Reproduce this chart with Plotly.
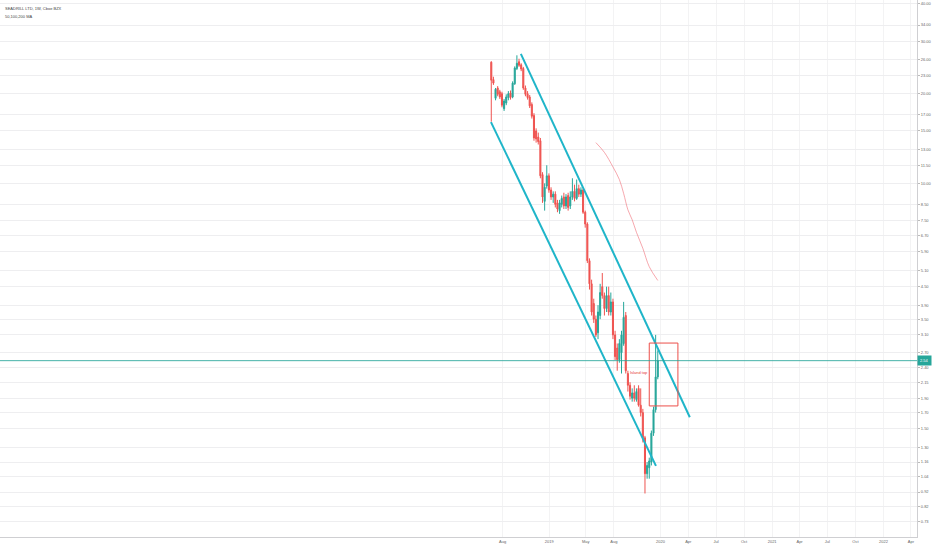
import math
import pandas as pd
import plotly.graph_objects as go

# ---------------- data (weekly candles) ----------------
start_week = "2018-06-25"
opens = [25.5, 22.3, 19.3, 20.9, 20.3, 20.0, 17.8, 18.6, 19.4, 20.1,
         19.5, 21.6, 24.3, 25.6, 25.0, 24.3, 20.9, 20.0, 19.5, 18.4,
         16.9, 15.0, 14.3, 13.9, 10.7, 8.7, 9.8, 10.6, 9.5, 9.0,
         9.2, 8.6, 8.1, 8.5, 9.0, 8.4, 9.1, 8.4, 9.0, 9.4,
         8.9, 9.6, 9.2, 9.5, 8.0, 7.3, 5.5, 4.6, 3.95, 3.5,
         3.15, 3.6, 4.5, 4.2, 3.8, 4.2, 3.7, 4.0, 3.1, 2.8,
         2.56, 2.7, 2.9, 3.6, 2.3, 2.1, 1.9, 1.98, 1.88, 2.05,
         1.8, 1.7, 1.4, 1.06, 1.11, 1.16, 1.45, 1.74, 2.24]
highs = [25.7, 22.8, 20.9, 21.2, 20.6, 20.3, 19.2, 19.9, 20.4, 20.5,
         22.0, 24.7, 26.9, 26.2, 25.3, 24.6, 21.3, 20.4, 19.8, 18.7,
         17.2, 15.3, 14.8, 14.2, 10.9, 10.0, 11.5, 10.8, 9.7, 9.4,
         9.4, 8.8, 8.8, 9.1, 9.3, 9.2, 9.3, 9.4, 10.4, 9.9,
         10.3, 9.9, 9.7, 9.6, 8.1, 7.4, 5.6, 4.75, 4.1, 3.6,
         3.9, 4.6, 5.0, 4.3, 4.5, 4.5, 4.3, 4.1, 3.2, 2.9,
         3.0, 3.2, 4.0, 3.7, 2.35, 2.15, 2.05, 2.1, 2.05, 2.1,
         2.05, 1.75, 1.42, 1.16, 1.2, 1.48, 1.78, 3.1, 2.75]
lows = [16.1, 21.4, 19.0, 19.6, 19.2, 18.0, 17.5, 18.3, 19.0, 19.1,
        19.3, 21.4, 24.0, 24.6, 23.8, 20.6, 19.6, 19.1, 17.9, 16.5,
        13.9, 13.7, 13.5, 10.4, 8.6, 8.1, 9.6, 9.3, 8.8, 8.6,
        8.3, 8.0, 7.9, 8.3, 8.2, 8.2, 8.1, 8.2, 8.8, 8.7,
        8.8, 9.0, 9.0, 7.9, 7.1, 5.4, 4.4, 3.6, 3.4, 3.05,
        3.0, 3.5, 4.1, 3.6, 3.7, 3.6, 3.6, 3.0, 2.55, 2.35,
        2.5, 2.3, 2.85, 2.3, 2.0, 1.88, 1.85, 1.85, 1.85, 1.78,
        1.65, 1.35, 0.91, 1.02, 1.02, 1.13, 1.42, 1.7, 2.2]
closes = [22.2, 21.7, 20.7, 19.9, 19.5, 18.3, 18.9, 19.5, 20.0, 19.4,
          21.7, 24.4, 25.3, 24.9, 24.2, 20.9, 19.9, 19.4, 18.2, 16.8,
          14.2, 14.1, 13.8, 10.6, 9.0, 9.7, 10.6, 9.5, 9.0, 9.2,
          8.5, 8.2, 8.6, 8.9, 8.4, 9.0, 8.3, 9.0, 9.4, 8.9,
          9.6, 9.2, 9.5, 8.0, 7.3, 5.5, 4.6, 3.7, 3.5, 3.1,
          3.7, 4.3, 4.2, 3.8, 4.2, 3.7, 4.0, 3.1, 2.62, 2.56,
          2.9, 3.1, 3.55, 2.35, 2.1, 1.93, 1.98, 1.9, 2.0, 1.8,
          1.7, 1.4, 1.06, 1.13, 1.17, 1.45, 1.74, 2.24, 2.54]

# 50-week moving average (candle index, value)
ma_index = [49, 53, 57, 60, 62, 64, 66, 68, 71, 74, 78]
ma_value = [13.7, 12.7, 11.35, 10.3, 9.25, 8.15, 7.55, 6.85, 6.05, 5.25, 4.72]

# channel trend lines (drawn by hand on the original chart)
upper_dates = ["2018-09-30", "2020-04-06"]
upper_prices = [27.2, 1.64]
lower_dates = ["2018-06-24", "2019-12-17"]
lower_prices = [16.05, 1.126]

# "Island top" box
box_dates = ["2019-11-25", "2020-02-27"]
box_prices = [1.79, 2.91]
note_text = "Island top"
note_date = "2019-10-24"
note_price = 2.31

last_price = 2.54
title_line1 = "SEADRILL LTD, 1W, Cboe BZX"
title_line2 = "50,100,200 MA"

y_ticks = [40, 34, 30, 26, 23, 20, 17, 15, 13, 11.5, 10, 8.5, 7.5, 6.7, 5.9, 5.1,
           4.5, 3.9, 3.5, 3.1, 2.7, 2.4, 2.15, 1.9, 1.7, 1.5, 1.3, 1.16, 1.04,
           0.92, 0.82, 0.73]
x_tick_dates = ["2018-08-01", "2019-01-01", "2019-05-01", "2019-08-01", "2020-01-01",
                "2020-04-01", "2020-07-01", "2020-10-01", "2021-01-01", "2021-04-01",
                "2021-07-01", "2021-10-01", "2022-01-01", "2022-04-01"]
x_tick_text = ["Aug", "2019", "May", "Aug", "2020", "Apr", "Jul", "Oct", "2021",
               "Apr", "Jul", "Oct", "2022", "Apr"]

x_range = ["2014-01-26", "2022-04-21"]
y_range = [0.650, 41.25]

# ------------------------------------------------------------------------------
dates = pd.date_range(start_week, periods=len(closes), freq="7D")

UP = "#26a69a"
DOWN = "#ef5350"
CYAN = "#1fb5c9"
FONT = "Liberation Sans, Arial, sans-serif"
FS = 4

fig = go.Figure()

fig.add_trace(go.Candlestick(
    x=dates, open=opens, high=highs, low=lows, close=closes,
    increasing=dict(line=dict(color=UP, width=1), fillcolor=UP),
    decreasing=dict(line=dict(color=DOWN, width=1), fillcolor=DOWN),
    whiskerwidth=0, hoverinfo="skip", showlegend=False,
))

fig.add_trace(go.Scatter(
    x=[dates[i] for i in ma_index], y=ma_value, mode="lines",
    line=dict(color="rgba(240,110,120,0.6)", width=1, shape="spline"),
    hoverinfo="skip", showlegend=False,
))

for dx, py in ((upper_dates, upper_prices), (lower_dates, lower_prices)):
    fig.add_trace(go.Scatter(x=dx, y=py, mode="lines",
                             line=dict(color=CYAN, width=2),
                             hoverinfo="skip", showlegend=False))

# box
fig.add_trace(go.Scatter(
    x=[box_dates[0], box_dates[1], box_dates[1], box_dates[0], box_dates[0]],
    y=[box_prices[0], box_prices[0], box_prices[1], box_prices[1], box_prices[0]],
    mode="lines", line=dict(color="#ec4f4a", width=1),
    hoverinfo="skip", showlegend=False))

# last price line
fig.add_trace(go.Scatter(x=x_range, y=[last_price, last_price], mode="lines",
                         line=dict(color="rgba(38,166,154,0.85)", width=1),
                         hoverinfo="skip", showlegend=False))

fig.add_annotation(x=note_date, y=math.log10(note_price), xref="x", yref="y",
                   text=note_text, showarrow=False,
                   font=dict(family=FONT, size=FS, color="#e53935"))

fig.add_annotation(x=1, y=math.log10(last_price), xref="paper", yref="y",
                   xanchor="left", yanchor="middle", text=f"{last_price:.2f}",
                   showarrow=False, bgcolor=UP, borderpad=2,
                   font=dict(family=FONT, size=FS, color="white"))

fig.add_annotation(x=0.003, y=0.985, xref="paper", yref="paper", xanchor="left",
                   yanchor="middle", text=title_line1, showarrow=False,
                   font=dict(family=FONT, size=FS, color="#444"))
fig.add_annotation(x=0.003, y=0.97, xref="paper", yref="paper", xanchor="left",
                   yanchor="middle", text=title_line2, showarrow=False,
                   font=dict(family=FONT, size=FS, color="#444"))

fig.update_layout(
    template="none",
    width=932, height=550,
    margin=dict(l=0, r=15, t=0, b=13),
    paper_bgcolor="white", plot_bgcolor="white",
    showlegend=False,
    font=dict(family=FONT, size=FS, color="#666"),
    xaxis=dict(
        type="date", range=x_range, rangeslider=dict(visible=False),
        tickmode="array", tickvals=x_tick_dates, ticktext=x_tick_text,
        showgrid=True, gridcolor="#f3f3f4", gridwidth=1,
        showline=True, linecolor="#cfcfd2", linewidth=1,
        ticks="", zeroline=False, automargin=False,
        tickfont=dict(family=FONT, size=FS, color="#666"),
    ),
    yaxis=dict(
        type="log", side="right",
        range=[math.log10(y_range[0]), math.log10(y_range[1])],
        tickmode="array", tickvals=y_ticks,
        ticktext=[f"{v:.2f}" for v in y_ticks],
        showgrid=True, gridcolor="#eeeef0", gridwidth=1,
        showline=True, linecolor="#cfcfd2", linewidth=1,
        ticks="outside", ticklen=2, tickcolor="#bbbbbb",
        zeroline=False, automargin=False,
        tickfont=dict(family=FONT, size=FS, color="#666"),
    ),
)

fig.write_html("out.html", config={"displayModeBar": False},
               post_script="document.body.style.margin='0';"
                           "document.body.style.overflow='hidden';")
